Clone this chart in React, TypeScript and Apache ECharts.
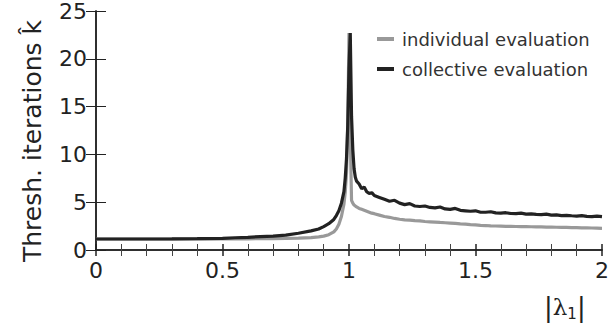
import React, { useEffect, useRef } from "react";
import * as echarts from "echarts";

const xs = [
  0, 0.1, 0.2, 0.3, 0.4, 0.5, 0.55, 0.6, 0.65, 0.7, 0.75, 0.8, 0.85, 0.88, 0.9, 0.92, 0.94, 0.95, 0.96, 0.97, 0.98,
  0.985, 0.99, 0.995, 1.0, 1.005, 1.01, 1.015, 1.02, 1.025, 1.03, 1.04, 1.05, 1.06, 1.07, 1.08, 1.09, 1.1,
  1.12, 1.14, 1.16, 1.18, 1.2, 1.22, 1.24, 1.26, 1.28, 1.3, 1.32, 1.34, 1.36, 1.38, 1.4, 1.42, 1.44, 1.46,
  1.48, 1.5, 1.52, 1.54, 1.56, 1.58, 1.6, 1.62, 1.64, 1.66, 1.68, 1.7, 1.72, 1.74, 1.76, 1.78, 1.8, 1.82,
  1.84, 1.86, 1.88, 1.9, 1.92, 1.94, 1.96, 1.98, 2.0,
];

const individual = [
  1.15, 1.15, 1.15, 1.15, 1.15, 1.15, 1.16, 1.17, 1.18, 1.2, 1.22, 1.25, 1.3, 1.38, 1.45, 1.6, 1.9, 2.2, 2.7, 3.5, 4.8,
  6.0, 8.0, 13, 22.7, 12, 5.2, 4.9, 4.7, 4.6, 4.5, 4.35, 4.25, 4.15, 4.05, 3.95, 3.85, 3.8,
  3.65, 3.5, 3.42, 3.3, 3.22, 3.15, 3.12, 3.08, 3.05, 2.98, 2.95, 2.92, 2.88, 2.85, 2.82, 2.78, 2.73, 2.7,
  2.65, 2.62, 2.58, 2.56, 2.53, 2.51, 2.5, 2.48, 2.48, 2.46, 2.45, 2.44, 2.43, 2.42, 2.41, 2.4, 2.39, 2.38,
  2.37, 2.36, 2.35, 2.34, 2.32, 2.31, 2.3, 2.29, 2.27,
];

const collective = [
  1.15, 1.15, 1.15, 1.16, 1.18, 1.22, 1.28, 1.33, 1.4, 1.45, 1.55, 1.75, 2.0, 2.2, 2.45, 2.75, 3.2, 3.6, 4.1, 4.9, 6.1,
  7.5, 9.5, 13, 19, 22.7, 14, 10.5, 8.5, 7.6, 7.2, 6.9, 6.4, 6.6, 6.1, 5.9, 6.0, 5.7,
  5.5, 5.3, 5.1, 5.2, 4.9, 4.75, 4.85, 4.6, 4.55, 4.6, 4.45, 4.4, 4.5, 4.3, 4.25, 4.35, 4.15, 4.1,
  4.05, 4.1, 3.95, 3.95, 4.0, 3.88, 3.85, 3.9, 3.82, 3.8, 3.85, 3.75, 3.78, 3.72, 3.7, 3.75, 3.65, 3.68,
  3.6, 3.62, 3.58, 3.55, 3.6, 3.52, 3.5, 3.55, 3.5,
];

const seriesNames = ["individual evaluation", "collective evaluation"];
const yTitle = "Thresh. iterations k\u0302";

export default function App() {
  const ref = useRef<HTMLDivElement>(null);
  useEffect(() => {
    if (!ref.current) return;
    const chart = echarts.init(ref.current, undefined, { renderer: "svg" });
    const font = "DejaVu Sans";
    const axisLine = { show: true, lineStyle: { color: "#222", width: 1.5 } };
    chart.setOption({
      animation: false,
      backgroundColor: "#fff",
      grid: { left: 96, top: 11, width: 511, height: 239 },
      legend: {
        orient: "vertical",
        left: 372,
        top: 23,
        itemWidth: 17,
        itemHeight: 4,
        itemGap: 8,
        icon: "rect",
        textStyle: { fontFamily: font, fontSize: 18, color: "#333", lineHeight: 22, padding: [0, 0, 0, 3] },
        data: seriesNames,
      },
      xAxis: [
        {
          type: "value",
          min: 0,
          max: 2,
          interval: 0.5,
          axisLine,
          splitLine: { show: false },
          axisTick: { inside: true, length: 6, lineStyle: { color: "#222", width: 1.5 } },
          minorTick: { show: true, splitNumber: 5, length: 6, lineStyle: { color: "#444", width: 1 } },
          axisLabel: { fontFamily: font, fontSize: 22, color: "#222", margin: 9 },
        },
        {
          type: "value",
          position: "top",
          min: 0,
          max: 2,
          interval: 0.5,
          axisLine,
          splitLine: { show: false },
          axisTick: { inside: true, length: 6, lineStyle: { color: "#222", width: 1.5 } },
          minorTick: { show: true, splitNumber: 5, length: 6, lineStyle: { color: "#444", width: 1 } },
          axisLabel: { show: false },
        },
      ],
      yAxis: [
        {
          type: "value",
          min: 0,
          max: 25,
          interval: 5,
          axisLine,
          splitLine: { show: false },
          axisTick: { inside: true, length: 10, lineStyle: { color: "#222", width: 1 } },
          axisLabel: { fontFamily: font, fontSize: 22, color: "#222", margin: 9 },
        },
        {
          type: "value",
          position: "right",
          min: 0,
          max: 25,
          interval: 5,
          axisLine,
          splitLine: { show: false },
          axisTick: { inside: true, length: 10, lineStyle: { color: "#222", width: 1 } },
          axisLabel: { show: false },
        },
      ],
      graphic: [
        {
          type: "text",
          x: 32,
          y: 141,
          rotation: Math.PI / 2,
          style: {
            text: yTitle,
            fontFamily: font,
            fontSize: 25,
            fill: "#222",
            align: "center",
            verticalAlign: "middle",
          },
        },
        {
          type: "text",
          x: 544,
          y: 292,
          style: {
            text: "|{a|λ}{s|1}|",
            fontFamily: font,
            fontSize: 26,
            fill: "#222",
            rich: {
              a: { fontFamily: "DejaVu Serif", fontSize: 23, fill: "#222" },
              s: { fontFamily: font, fontSize: 15, fill: "#222", padding: [14, 0, 0, 0] },
            },
          },
        },
      ],
      series: [
        {
          name: seriesNames[0],
          type: "line",
          showSymbol: false,
          data: xs.map((x, i) => [x, individual[i]]),
          lineStyle: { color: "#999", width: 3.2 },
          itemStyle: { color: "#999" },
        },
        {
          name: seriesNames[1],
          type: "line",
          showSymbol: false,
          data: xs.map((x, i) => [x, collective[i]]),
          lineStyle: { color: "#222", width: 3.2 },
          itemStyle: { color: "#222" },
        },
      ],
    });
    return () => chart.dispose();
  }, []);
  return <div ref={ref} style={{ position: "fixed", left: 0, top: 0, width: 612, height: 329 }} />;
}
